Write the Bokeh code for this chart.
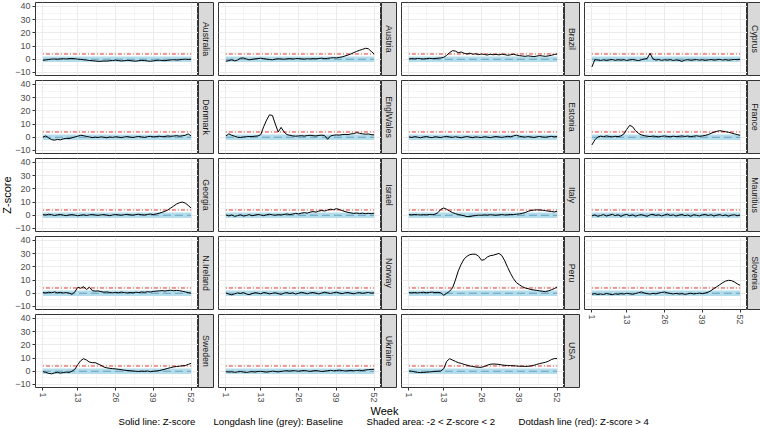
import numpy as np
from bokeh.plotting import figure
from bokeh.layouts import row, column
from bokeh.models import Range1d, FixedTicker
from bokeh.core.properties import value
from bokeh.embed import file_html
from bokeh.resources import INLINE

weeks = list(range(1, 53))
x_ticks = [1, 13, 26, 39, 52]
x_minor = [7, 19.5, 32.5, 45.5]
y_ticks = [-10, 0, 10, 20, 30, 40]
y_minor = [-5, 5, 15, 25, 35]
baseline_level = 0
band_low = -2
band_high = 2
threshold = 4

countries = ["Australia", "Austria", "Brazil", "Cyprus",
             "Denmark", "EnglWales", "Estonia", "France",
             "Georgia", "Israel", "Italy", "Mauritius",
             "N.Ireland", "Norway", "Peru", "Slovenia",
             "Sweden", "Ukraine", "USA"]

australia = [-0.8,-0.5,-0.2,0.1,0.2,0.0,0.3,0.4,0.2,0.5,
             0.6,0.4,0.1,-0.1,-0.4,-0.6,-0.9,-1.1,-1.3,-1.6,
             -1.5,-1.3,-1.4,-1.1,-0.9,-0.7,-1.0,-1.3,-1.1,-0.8,
             -1.0,-1.3,-1.4,-1.1,-0.8,-1.0,-1.3,-1.5,-1.2,-0.9,
             -0.7,-0.9,-1.1,-0.8,-0.5,-0.3,-0.6,-0.4,-0.1,0.1,
             -0.2,0.1]
austria = [-1.5,-1.0,-0.4,-1.2,-0.6,0.8,1.0,0.2,-0.4,-0.1,
           0.3,0.5,0.8,0.5,0.1,-0.2,-0.4,0.1,0.4,0.2,
           0.0,0.3,0.5,0.2,0.4,0.6,0.3,0.1,0.4,0.2,
           0.5,0.3,0.6,0.8,0.5,0.7,1.0,1.2,1.0,1.4,
           1.8,2.5,3.2,4.0,5.0,6.0,6.8,7.5,8.3,8.0,
           6.0,4.0]
brazil = [0.2,0.5,0.3,0.6,0.4,0.2,0.5,0.7,0.4,0.6,
          0.8,1.0,1.5,3.0,5.0,6.5,6.2,5.0,5.5,4.5,
          4.0,4.6,3.8,4.2,3.5,4.0,3.6,3.2,3.8,3.4,
          3.7,3.3,3.9,3.5,3.0,3.4,3.8,3.2,2.8,2.5,
          2.2,2.6,2.3,2.0,2.4,2.8,2.5,2.2,2.6,3.0,
          3.6,4.0]
cyprus = [-5.8,-0.3,-0.6,-0.9,-0.4,-1.0,-0.5,-0.2,-0.8,-0.4,
          -0.7,-0.3,-0.9,-0.5,-0.2,-0.6,-1.0,-0.4,0.2,0.5,
          4.5,0.3,-0.6,-0.2,-0.8,-0.4,-0.7,-0.3,-0.9,-0.5,
          -0.8,-1.6,-0.6,-0.3,-0.8,-0.5,-0.2,-0.7,-0.4,-0.9,
          -0.5,-0.2,-0.7,-0.4,-0.1,-0.6,-0.3,-0.8,-0.4,-0.1,
          -0.3,0.0]
denmark = [0.2,1.0,-0.5,-1.8,-2.2,-1.6,-2.0,-1.2,-0.8,-1.0,
           -0.4,0.2,0.8,1.5,1.2,0.6,0.2,-0.3,0.1,-0.2,
           0.3,0.0,-0.4,0.2,-0.1,0.4,0.1,-0.3,0.2,0.5,
           0.1,-0.2,0.3,0.6,0.2,-0.1,0.4,0.7,0.3,0.5,
           0.8,0.4,0.6,1.0,0.7,0.9,1.2,0.8,1.1,1.5,
           2.6,1.0]
englwales = [1.0,2.6,1.5,0.8,0.0,-0.2,0.2,0.4,0.6,0.5,
             0.8,1.0,2.0,8.0,13.0,17.0,16.5,10.0,4.0,7.5,
             4.0,2.0,1.5,1.0,0.8,1.0,1.2,0.9,1.3,1.5,
             1.2,1.0,1.4,1.6,1.2,-1.5,1.0,1.5,1.8,1.6,
             2.0,2.2,2.0,2.5,2.8,3.5,3.0,2.6,2.3,2.5,
             2.0,1.8]
estonia = [0.3,-0.2,0.5,0.1,-0.4,0.2,0.6,0.0,-0.3,0.4,
           0.1,-0.2,0.3,0.7,0.2,-0.1,0.4,0.0,-0.4,0.2,
           0.5,0.1,-0.3,0.3,0.0,-0.2,0.4,0.1,-0.3,0.2,
           0.6,0.2,-0.1,0.3,0.7,0.4,1.0,1.6,0.8,0.4,
           0.1,0.5,0.2,-0.2,0.3,0.6,0.2,0.0,0.4,0.7,
           0.3,0.6]
france = [-5.8,-2.0,0.2,0.8,0.4,1.0,0.6,0.3,0.7,0.5,
          1.0,2.5,6.0,9.0,8.0,5.0,3.0,1.8,1.2,0.8,
          0.5,0.9,0.6,0.3,0.7,1.0,0.6,0.4,0.8,0.5,
          0.7,1.0,0.6,0.9,0.5,0.8,1.1,0.7,1.0,1.4,
          2.0,3.0,3.8,4.5,5.0,4.6,4.2,3.8,3.2,2.6,
          2.0,1.5]
georgia = [0.5,0.2,0.8,0.4,-0.2,0.3,0.6,0.1,-0.3,0.2,
           0.5,0.1,-0.4,0.0,0.4,-0.2,0.3,0.6,0.2,-0.1,
           0.3,0.5,0.1,-0.3,0.2,0.6,0.3,0.0,0.4,0.7,
           0.3,0.1,0.5,0.8,0.4,0.2,0.6,0.9,0.5,1.0,
           1.5,2.2,3.0,4.0,5.5,7.0,8.5,9.5,10.0,9.2,
           7.5,5.5]
israel = [0.3,-0.5,0.2,-0.8,-0.3,0.4,-0.6,-0.2,0.5,-0.4,
          0.1,0.6,0.2,-0.3,0.4,0.8,0.3,0.0,0.5,0.2,
          0.6,1.0,0.5,0.9,1.4,1.0,1.6,2.0,1.6,2.4,
          2.8,2.4,3.2,3.6,3.2,4.0,4.6,4.2,5.0,4.4,
          3.6,2.8,2.2,1.8,1.4,1.7,1.3,1.6,1.2,1.5,
          1.2,1.6]
italy = [0.5,0.3,0.6,0.4,0.2,0.5,0.3,0.6,0.4,0.8,
         2.0,4.5,5.5,4.5,3.2,2.0,1.2,0.6,0.1,-0.4,
         -1.0,-1.0,-0.5,-0.2,0.1,0.0,0.3,0.1,0.4,0.2,
         0.0,0.3,0.5,0.2,0.4,0.6,0.5,0.8,1.0,1.5,
         2.0,3.0,3.6,3.9,4.1,4.0,3.8,3.5,3.1,2.9,
         2.5,3.0]
mauritius = [-0.5,0.3,-0.8,-0.2,0.5,-0.6,0.1,0.8,-0.3,0.4,
             -0.9,0.2,0.6,-0.4,0.3,-0.7,0.0,0.5,-0.2,-0.8,
             0.3,0.7,-0.1,0.4,-0.5,0.2,0.9,-0.2,0.3,-0.6,
             0.1,0.6,-0.3,0.2,-0.8,0.4,0.0,-0.5,0.3,0.7,
             -0.2,0.4,-0.6,0.1,0.5,-0.3,0.2,-0.7,0.0,0.4,
             -0.4,0.2]
nireland = [0.6,0.2,0.8,0.4,1.0,0.3,0.7,0.2,0.5,0.1,
            -0.8,1.0,4.5,3.8,5.0,2.8,4.6,2.0,1.6,1.8,
            1.2,0.8,1.0,0.6,0.3,0.7,0.4,0.9,0.5,0.2,
            0.6,0.3,0.8,0.5,1.0,0.7,1.2,0.9,1.4,1.6,
            1.8,2.0,1.7,2.1,2.3,1.9,2.2,2.0,1.5,1.0,
            0.5,0.1]
norway = [0.2,-0.6,-1.2,-0.4,0.3,-0.2,0.5,-0.5,-1.0,-0.3,
          0.4,0.1,-0.4,0.6,0.2,-0.5,0.0,0.4,-0.3,-0.8,
          0.1,0.5,-0.2,0.3,-0.6,0.0,0.7,0.2,-0.4,0.3,
          0.6,0.0,-0.5,0.2,0.8,0.3,-0.2,0.4,0.9,0.2,
          -0.3,0.3,0.6,0.0,-0.4,0.2,0.5,-0.1,0.3,0.6,
          0.1,0.4]
peru = [0.5,0.3,0.6,0.2,0.5,0.8,0.4,0.6,0.9,0.5,
        0.7,0.3,-1.5,0.0,1.5,4.0,10.0,17.0,22.0,26.0,
        28.0,29.3,29.6,29.5,28.0,25.0,25.5,27.5,28.5,28.8,
        29.5,30.2,28.5,24.5,19.5,15.0,11.0,8.0,6.5,5.0,
        4.0,3.5,2.8,2.5,2.2,1.8,1.5,1.2,1.8,2.6,
        3.5,4.8]
slovenia = [-0.8,-0.3,-1.0,-0.5,-0.9,-0.2,-0.7,-1.1,-0.4,-0.8,
            -0.3,-0.6,0.0,-0.4,-0.8,-0.2,0.4,1.0,0.2,-0.3,
            -0.6,-0.1,-0.5,0.2,0.6,1.0,0.3,-0.2,-0.5,-0.1,
            -0.6,-0.3,-0.8,-0.4,0.0,-0.5,-0.2,0.1,-0.3,0.2,
            0.8,2.0,3.6,5.0,6.5,8.0,9.2,9.8,9.6,8.6,
            7.2,6.0]
sweden = [-0.3,-0.8,-1.6,-2.0,-1.2,-0.8,-1.4,-1.0,-0.6,-0.9,
          0.0,1.5,5.0,8.0,9.5,8.5,7.0,6.5,6.5,5.5,
          4.5,3.2,2.6,2.2,2.0,1.8,1.5,1.2,0.8,0.6,
          0.4,0.2,0.0,-0.2,0.1,-0.1,0.2,-0.3,0.0,0.2,
          0.5,1.0,1.6,2.2,2.8,3.3,3.6,3.8,4.2,4.3,
          5.2,6.0]
ukraine = [-0.3,-0.6,-0.4,-0.8,-0.5,-0.2,-0.6,-0.9,-0.5,-0.3,
           -0.6,-0.2,0.0,-0.4,-0.7,-0.3,0.1,-0.2,-0.5,-0.1,
           0.2,0.4,0.1,0.5,0.3,0.0,0.4,0.6,0.2,-0.1,
           0.3,0.5,0.2,-0.2,0.1,0.4,0.7,0.3,0.6,0.9,
           0.5,0.2,0.4,0.7,0.3,0.6,0.8,0.5,1.0,1.2,
           1.4,1.5]
usa = [0.2,0.0,-0.5,-0.8,-1.0,-0.9,-0.7,-0.5,-0.3,-0.1,
       0.0,0.2,2.0,7.5,9.5,8.5,7.5,6.5,6.0,5.2,
       4.6,4.0,3.6,3.2,3.0,3.0,3.6,4.6,5.3,5.5,
       5.4,5.2,4.8,4.5,4.3,4.3,4.2,4.0,3.8,3.8,
       3.7,3.8,4.0,4.5,5.2,5.8,6.3,6.8,7.6,8.8,
       9.6,9.6]

zscores = [australia, austria, brazil, cyprus, denmark, englwales, estonia,
           france, georgia, israel, italy, mauritius, nireland, norway, peru,
           slovenia, sweden, ukraine, usa]

# ---- layout / style constants ----
FONTNAME = "Liberation Sans"
FONT = value(FONTNAME)
PW, PH, SW = 163, 73, 15
LEFT, ZW, XAX, BOT = 18, 12, 18, 22
GAPL = 4            # left border of panels in columns 2-4
TOPB, BOTB = 2, 3   # borders around each panel (vertical gap = 5)
NCOL = 4
BAND_COLOR = "#B3DDEA"
BASE_COLOR = "#6A9FBF"
RED = "#E0352B"
BORDER = "#333333"
GRID = "#EBEBEB"


def make_panel(idx, col, bottom_axis):
    p = figure(frame_width=PW, frame_height=PH,
               x_range=Range1d(-1.55, 54.55), y_range=Range1d(-12.3, 43.0),
               x_axis_location="below" if bottom_axis else None,
               y_axis_location="left" if col == 0 else None,
               toolbar_location=None, output_backend="svg",
               min_border_left=LEFT if col == 0 else GAPL, min_border_right=0,
               min_border_top=TOPB, min_border_bottom=XAX if bottom_axis else BOTB)
    p.outline_line_color = BORDER
    p.outline_line_width = 1
    p.background_fill_color = "white"
    p.xgrid.ticker = FixedTicker(ticks=x_ticks, minor_ticks=x_minor)
    p.ygrid.ticker = FixedTicker(ticks=y_ticks, minor_ticks=y_minor)
    for g in (p.xgrid, p.ygrid):
        g.grid_line_color = GRID
        g.grid_line_width = 1
        g.minor_grid_line_color = GRID
        g.minor_grid_line_width = 0.5
    for ax in p.axis:
        ax.axis_line_color = None
        ax.major_tick_line_color = BORDER
        ax.major_tick_out = 3
        ax.major_tick_in = 0
        ax.minor_tick_line_color = None
        ax.major_label_text_font = FONTNAME
        ax.major_label_text_font_size = "9px"
        ax.major_label_text_color = "#4D4D4D"
        ax.major_label_standoff = 1
    if bottom_axis:
        p.xaxis.ticker = FixedTicker(ticks=x_ticks, minor_ticks=x_minor)
        p.xaxis.major_label_orientation = "vertical"
    if col == 0:
        p.yaxis.ticker = FixedTicker(ticks=y_ticks, minor_ticks=y_minor)

    p.quad(left=weeks[0], right=weeks[-1], bottom=band_low, top=band_high,
           fill_color=BAND_COLOR, line_color=None)
    p.segment(x0=weeks[0], x1=weeks[-1], y0=baseline_level, y1=baseline_level,
              line_color=BASE_COLOR, line_width=1, line_dash="8 4")
    p.segment(x0=weeks[0], x1=weeks[-1], y0=threshold, y1=threshold,
              line_color=RED, line_width=1, line_dash="1 2 4 2")
    p.line(weeks, zscores[idx], line_color="black", line_width=1)
    return p


def make_strip(name, bottom):
    s = figure(frame_width=SW, frame_height=PH,
               x_range=Range1d(0, 1), y_range=Range1d(0, 1),
               x_axis_location=None, y_axis_location=None,
               toolbar_location=None, output_backend="svg",
               min_border_left=0, min_border_right=1,
               min_border_top=TOPB, min_border_bottom=bottom)
    s.grid.visible = False
    s.background_fill_color = "#D9D9D9"
    s.outline_line_color = BORDER
    s.outline_line_width = 1
    s.text(x=[0.5], y=[0.5], text=[name], angle=-np.pi / 2,
           text_align="center", text_baseline="middle",
           text_font=FONT, text_font_size="8.8px", text_color="#1A1A1A")
    return s


columns = []
for c in range(NCOL):
    idxs = list(range(c, len(countries), NCOL))
    cells = []
    for r, idx in enumerate(idxs):
        last = (r == len(idxs) - 1)
        p = make_panel(idx, c, last)
        s = make_strip(countries[idx], XAX if last else BOTB)
        cells.append(row(p, s, spacing=0))
    columns.append(column(*cells, spacing=0))

COLH = 4 * (TOPB + PH + BOTB) + (TOPB + PH + XAX)
PANEL_MID = TOPB + (5 * PH + 4 * (TOPB + BOTB)) / 2

zfig = figure(width=ZW, height=COLH, x_range=Range1d(0, ZW), y_range=Range1d(0, COLH),
              x_axis_location=None, y_axis_location=None,
              toolbar_location=None, output_backend="svg", min_border=0)
zfig.grid.visible = False
zfig.outline_line_color = None
zfig.text(x=[6.5], y=[COLH - PANEL_MID], text=["Z-score"],
          angle=np.pi / 2, text_align="center", text_baseline="middle",
          text_font=FONT, text_font_size="11px", text_color="black")

TOTW = ZW + (LEFT + PW + SW + 1) + 3 * (GAPL + PW + SW + 1)
bfig = figure(width=TOTW, height=BOT, x_range=Range1d(0, TOTW), y_range=Range1d(0, BOT),
              x_axis_location=None, y_axis_location=None,
              toolbar_location=None, output_backend="svg", min_border=0)
bfig.grid.visible = False
bfig.outline_line_color = None
bfig.text(x=[384], y=[BOT - 5], text=["Week"], text_align="center",
          text_baseline="middle", text_font=FONT, text_font_size="11px",
          text_color="black")
cap_texts = ["Solid line: Z-score", "Longdash line (grey): Baseline",
             "Shaded area: -2 < Z-score < 2", "Dotdash line (red): Z-score > 4"]
cap_x = [118, 213, 366, 518]
bfig.text(x=cap_x, y=[BOT - 16] * 4, text=cap_texts, text_align="left",
          text_baseline="middle", text_font=FONT, text_font_size="9.6px",
          text_color="black")

layout = column(row(zfig, *columns, spacing=0), bfig, spacing=0)

open("out.html", "w").write(file_html(layout, INLINE))
